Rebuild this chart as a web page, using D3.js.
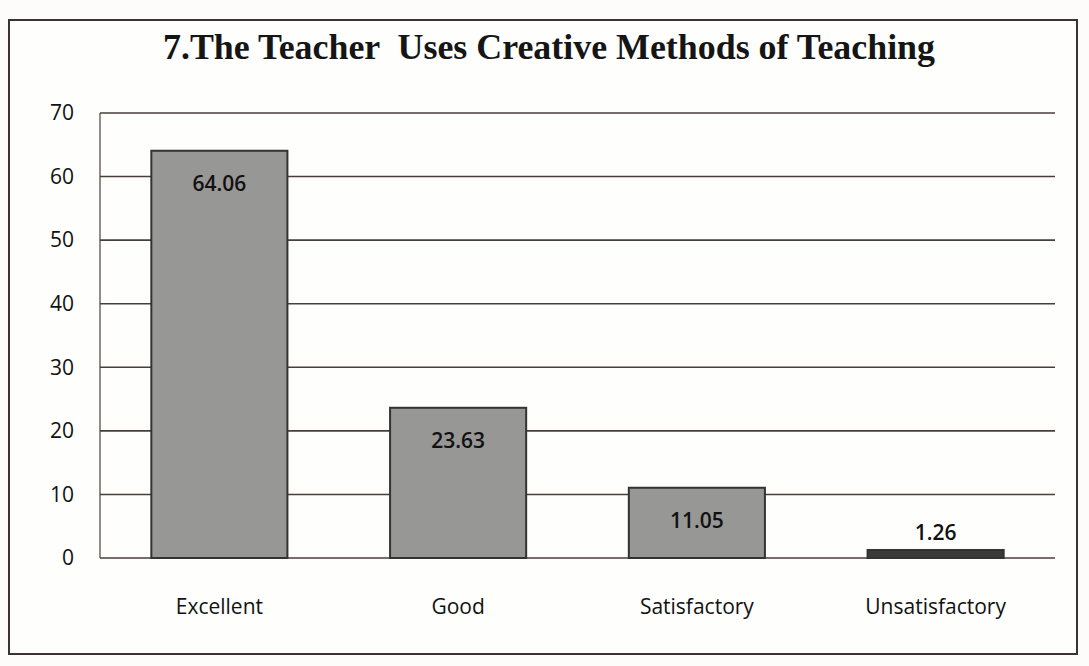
<!DOCTYPE html>
<html>
<head>
<meta charset="utf-8">
<script src="https://cdn.jsdelivr.net/npm/d3@7"></script>
<style>
    body { margin: 0; background: #fdfcfa; }
    .tick-label, .cat-label, .val-label { font-family: "Open Sans", sans-serif; fill: #111; }
</style>
</head>
<body>
<div id="chart"></div>
<script>
// data
var categories = ["Excellent", "Good", "Satisfactory", "Unsatisfactory"];
var values = [64.06, 23.63, 11.05, 1.26];
var yTicks = [0, 10, 20, 30, 40, 50, 60, 70];
var title = "7.The Teacher  Uses Creative Methods of Teaching";

var w = 1089,
    h = 666,
    margin = {top: 113, right: 34, bottom: 108, left: 100},
    width = w - margin.left - margin.right,
    height = h - margin.top - margin.bottom;

var svg = d3.select("#chart").append("svg")
    .attr("width", w)
    .attr("height", h);

// outer frame
svg.append("rect")
    .attr("x", 9)
    .attr("y", 20)
    .attr("width", 1068)
    .attr("height", 634)
    .style("fill", "#fefefd")
    .style("stroke", "#3a3330")
    .style("stroke-width", 2);

svg.append("text")
    .attr("x", 549)
    .attr("y", 59)
    .attr("text-anchor", "middle")
    .attr("xml:space", "preserve")
    .attr("textLength", 772)
    .attr("lengthAdjust", "spacingAndGlyphs")
    .style("white-space", "pre")
    .style("font-family", "Liberation Serif, serif")
    .style("font-weight", "bold")
    .style("font-size", "35px")
    .style("fill", "#151515")
    .text(title);

var g = svg.append("g").attr("transform", "translate(" + margin.left + "," + margin.top + ")");

var x = d3.scaleBand()
    .domain(categories)
    .range([0, width])
    .paddingInner(0.43)
    .paddingOuter(0.215);

var y = d3.scaleLinear()
    .domain([0, 70])
    .range([height, 0]);

// gridlines
g.append("g")
    .selectAll("line")
    .data(yTicks)
    .enter().append("line")
    .attr("x1", 0)
    .attr("x2", width)
    .attr("y1", function (d) { return y(d); })
    .attr("y2", function (d) { return y(d); })
    .style("stroke", "#4a3e3a")
    .style("stroke-width", 1.6);

// vertical axis line
g.append("line")
    .attr("x1", 0)
    .attr("x2", 0)
    .attr("y1", 0)
    .attr("y2", height)
    .style("stroke", "#4a3e3a")
    .style("stroke-width", 1.2);

g.append("g")
    .selectAll("text")
    .data(yTicks)
    .enter().append("text")
    .attr("class", "tick-label")
    .attr("x", -26)
    .attr("y", function (d) { return y(d); })
    .attr("dy", "0.35em")
    .attr("text-anchor", "end")
    .style("font-size", "21px")
    .text(function (d) { return d; });

// bars
g.selectAll(".bar")
    .data(values)
    .enter().append("rect")
    .attr("class", "bar")
    .attr("x", function (d, i) { return x(categories[i]); })
    .attr("width", x.bandwidth())
    .attr("y", function (d) { return y(d); })
    .attr("height", function (d) { return height - y(d); })
    .style("fill", function (d) { return d < 5 ? "#3a3a38" : "#979795"; })
    .style("stroke", "#333")
    .style("stroke-width", 2);

// value labels
g.selectAll(".val-label")
    .data(values)
    .enter().append("text")
    .attr("class", "val-label")
    .attr("x", function (d, i) { return x(categories[i]) + x.bandwidth() / 2; })
    .attr("y", function (d) { return d > 5 ? y(d) + 40 : y(d) - 10; })
    .attr("text-anchor", "middle")
    .style("font-size", "21px")
    .style("font-weight", 600)
    .text(function (d) { return d.toFixed(2); });

// category labels
g.selectAll(".cat-label")
    .data(categories)
    .enter().append("text")
    .attr("class", "cat-label")
    .attr("x", function (d) { return x(d) + x.bandwidth() / 2; })
    .attr("y", height + 56)
    .attr("text-anchor", "middle")
    .style("font-size", "21px")
    .text(function (d) { return d; });
</script>
</body>
</html>
